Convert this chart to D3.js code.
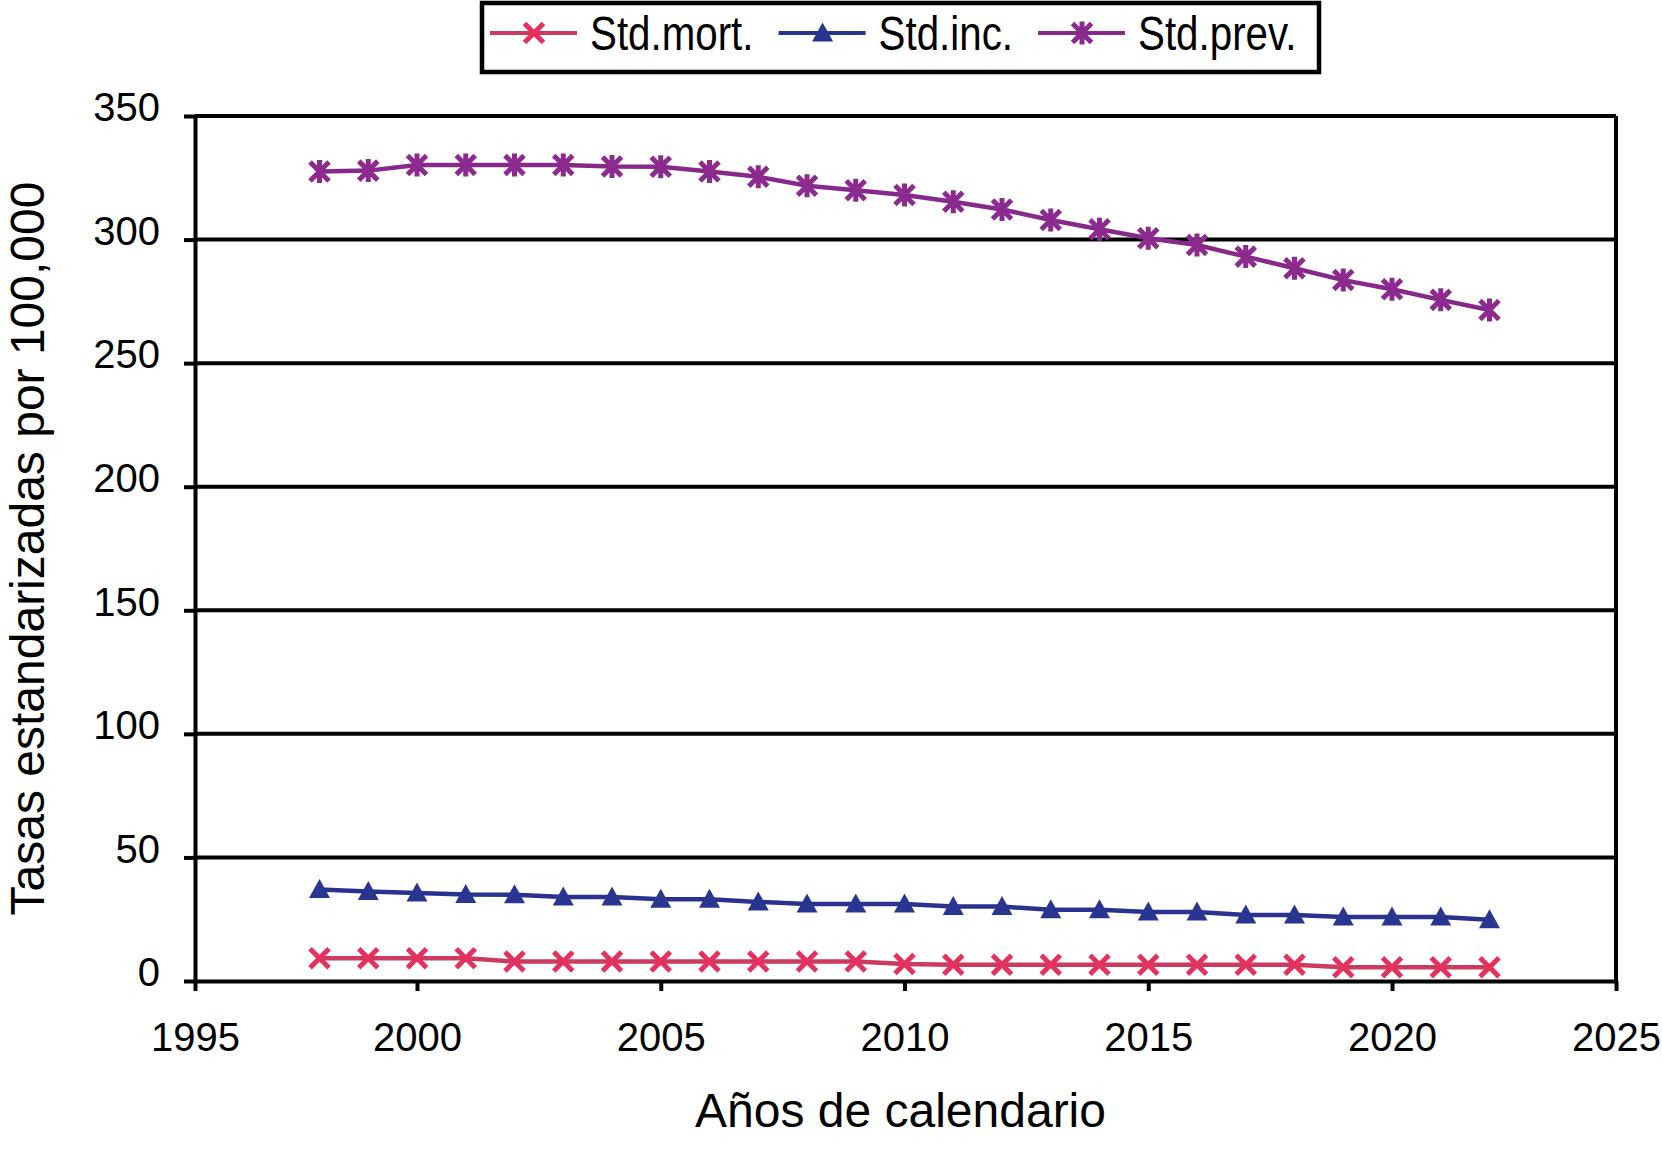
<!DOCTYPE html>
<html>
<head>
<meta charset="utf-8">
<script src="https://cdn.jsdelivr.net/npm/d3@7"></script>
<style>
  body { margin: 0; background: #fff; }
  svg { font-family: "Liberation Sans", Arial, Helvetica, sans-serif; }
  .axis text { font-size: 40px; fill: #000; }
  .axis line, .axis path { stroke: #000; stroke-width: 4; }
</style>
</head>
<body>
<svg id="chart"></svg>
<script>
// data
const years = d3.range(1998, 2023);
const stdMort = [9.2, 9.2, 9.2, 9.2, 7.9, 7.9, 7.9, 7.9, 7.9, 7.9, 7.9, 7.9, 6.9, 6.6, 6.6, 6.6, 6.6, 6.6, 6.6, 6.6, 6.6, 5.6, 5.6, 5.6, 5.6];
const stdInc = [37.0, 36.2, 35.6, 35.0, 34.9, 34.0, 34.0, 33.1, 33.1, 32.0, 31.2, 31.2, 31.2, 30.1, 30.1, 28.8, 28.8, 27.9, 27.9, 26.7, 26.7, 25.9, 25.9, 25.9, 24.8];
const stdPrev = [327.5, 327.9, 330.2, 330.2, 330.2, 330.2, 329.6, 329.5, 327.5, 325.4, 321.8, 320.0, 318.0, 315.3, 312.2, 307.9, 304.2, 300.5, 297.8, 293.1, 288.4, 283.6, 279.9, 275.6, 271.5];
const seriesNames = ["Std.mort.", "Std.inc.", "Std.prev."];
const xTicks = [1995, 2000, 2005, 2010, 2015, 2020, 2025];
const yTicks = [0, 50, 100, 150, 200, 250, 300, 350];
const xTitle = "Años de calendario";
const yTitle = "Tasas estandarizadas por 100,000";

const config = {
  width: 1662,
  height: 1150,
  left: 195, right: 1616, top: 116, bottom: 981
};

const series = [
  {name: seriesNames[0], values: stdMort, line: "#cc3b5f", mark: "#e5315d", shape: "x"},
  {name: seriesNames[1], values: stdInc, line: "#29338f", mark: "#283591", shape: "tri"},
  {name: seriesNames[2], values: stdPrev, line: "#87298a", mark: "#8c2a8f", shape: "star"}
];

const svg = d3.select("#chart")
  .attr("width", config.width)
  .attr("height", config.height);

// x axis stops a bit inside 1995 and 2025; clamp puts those labels on the frame
const xScale = d3.scaleLinear()
  .domain([1995.446, 2024.595])
  .range([config.left, config.right])
  .clamp(true);

const yScale = d3.scaleLinear()
  .domain([0, 350])
  .range([config.bottom, config.top]);

// gridlines
svg.append("g")
  .selectAll("line")
  .data(yTicks.filter(d => d > 0))
  .join("line")
    .attr("x1", config.left)
    .attr("x2", config.right)
    .attr("y1", d => yScale(d))
    .attr("y2", d => yScale(d))
    .attr("stroke", "#000")
    .attr("stroke-width", 4);

// right frame
svg.append("line")
  .attr("x1", config.right).attr("x2", config.right)
  .attr("y1", yScale(350)).attr("y2", yScale(0))
  .attr("stroke", "#000")
  .attr("stroke-width", 4);

const yAxis = d3.axisLeft(yScale)
  .tickValues(yTicks)
  .tickSize(11)
  .tickPadding(24)
  .tickSizeOuter(0);

svg.append("g")
  .attr("class", "axis y-axis")
  .attr("transform", `translate(${config.left},0)`)
  .call(yAxis)
  .call(g => g.selectAll("text").attr("dy", "0.12em"));

const xAxis = d3.axisBottom(xScale)
  .tickValues(xTicks)
  .tickFormat(d3.format("d"))
  .tickSize(10)
  .tickPadding(32)
  .tickSizeOuter(0);

svg.append("g")
  .attr("class", "axis x-axis")
  .attr("transform", `translate(0,${config.bottom})`)
  .call(xAxis);

// markers
function markerPath(shape) {
  if (shape === "x") {
    const s = 9.5;
    return `M${-s},${-s}L${s},${s}M${-s},${s}L${s},${-s}`;
  }
  if (shape === "tri") {
    return "M0,-10.5L10.5,8.5L-10.5,8.5Z";
  }
  const s = 11.5, d = 9.5;
  return `M0,${-s}L0,${s}M${-d},${-d}L${d},${d}M${-d},${d}L${d},${-d}`;
}

function drawMarker(g, shape, color) {
  const p = g.append("path").attr("d", markerPath(shape));
  if (shape === "tri") {
    p.attr("fill", color).attr("stroke", "none");
  } else {
    p.attr("fill", "none").attr("stroke", color).attr("stroke-width", 5);
  }
}

const line = d3.line()
  .x((d, i) => xScale(years[i]))
  .y(d => yScale(d));

series.forEach(s => {
  svg.append("path")
    .datum(s.values)
    .attr("fill", "none")
    .attr("stroke", s.line)
    .attr("stroke-width", 4.5)
    .attr("d", line);

  svg.append("g")
    .selectAll("g")
    .data(s.values)
    .join("g")
      .attr("transform", (d, i) => `translate(${xScale(years[i])},${yScale(d)})`)
      .each(function() { drawMarker(d3.select(this), s.shape, s.mark); });
});

// axis titles
svg.append("text")
  .attr("text-anchor", "middle")
  .attr("x", (config.left + config.right) / 2 - 5)
  .attr("y", 1127)
  .style("font-size", "48px")
  .text(xTitle);

svg.append("text")
  .attr("text-anchor", "middle")
  .attr("transform", `translate(44,${(config.top + config.bottom) / 2}) rotate(-90)`)
  .style("font-size", "48px")
  .text(yTitle);

// legend
const legend = svg.append("g").attr("class", "legend");
legend.append("rect")
  .attr("x", 482).attr("y", 3)
  .attr("width", 837).attr("height", 69)
  .attr("fill", "#fff")
  .attr("stroke", "#000")
  .attr("stroke-width", 4.5);

let lx = 490;
series.forEach(s => {
  const item = legend.append("g").attr("transform", `translate(${lx},33)`);
  item.append("line")
    .attr("x1", 0).attr("x2", 87)
    .attr("stroke", s.line)
    .attr("stroke-width", 4);
  const m = item.append("g").attr("transform", "translate(44,0)");
  drawMarker(m, s.shape, s.mark);
  const t = item.append("text")
    .attr("x", 0)
    .attr("y", 17)
    .style("font-size", "48px")
    .text(s.name);
  const w = t.node().getComputedTextLength() * 0.84;
  t.attr("transform", "translate(100,0) scale(0.84,1)");
  lx += 100 + w + 25;
});
</script>
</body>
</html>
